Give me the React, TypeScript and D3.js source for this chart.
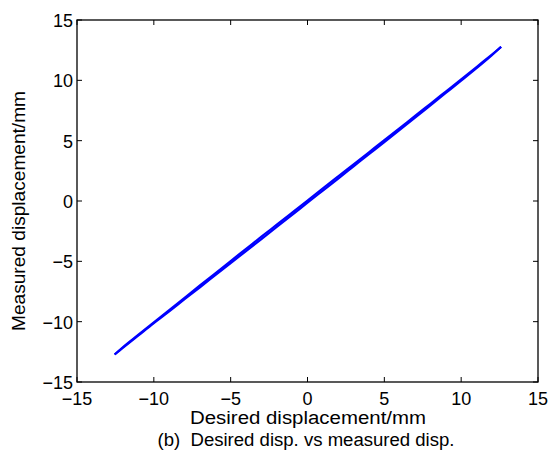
import React from "react";
import * as d3 from "d3";

const xTicks = [-15, -10, -5, 0, 5, 10, 15];
const yTicks = [-15, -10, -5, 0, 5, 10, 15];

// Rising branch of the hysteresis loop
const desiredUp = [-12.55, -12.0, -11.0, -10.0, -9.0, -8.0, -7.0, -6.0, -5.0, -4.0, -3.0, -2.0, -1.0, 0.0, 1.0, 2.0, 3.0, 4.0, 5.0, 6.0, 7.0, 8.0, 9.0, 10.0, 11.0, 12.0, 12.6];
const measuredUp = [-12.72, -12.16, -11.14, -10.12, -9.14, -8.14, -7.15, -6.15, -5.15, -4.15, -3.15, -2.15, -1.15, -0.14, 0.86, 1.86, 2.87, 3.88, 4.88, 5.9, 6.91, 7.93, 8.95, 9.97, 11.0, 12.08, 12.78];
// Falling branch
const desiredDown = [12.6, 12.0, 11.0, 10.0, 9.0, 8.0, 7.0, 6.0, 5.0, 4.0, 3.0, 2.0, 1.0, 0.0, -1.0, -2.0, -3.0, -4.0, -5.0, -6.0, -7.0, -8.0, -9.0, -10.0, -11.0, -12.0, -12.55];
const measuredDown = [12.78, 12.14, 11.1, 10.08, 9.07, 8.06, 7.05, 6.05, 5.04, 4.04, 3.04, 2.04, 1.04, 0.04, -0.96, -1.96, -2.96, -3.97, -4.98, -5.99, -7.0, -8.02, -9.04, -10.06, -11.08, -12.1, -12.72];

const W = 550;
const H = 454;
const left = 77;
const right = 538;
const top = 20;
const bottom = 382;
const font = "'Liberation Sans', Arial, Helvetica, sans-serif";

export default function App() {
  const x = d3.scaleLinear().domain([-15, 15]).range([left, right]);
  const y = d3.scaleLinear().domain([-15, 15]).range([bottom, top]);
  const line = d3
    .line<[number, number]>()
    .x((d) => x(d[0]))
    .y((d) => y(d[1]))
    .curve(d3.curveCatmullRom);
  const up: [number, number][] = desiredUp.map((d, i) => [d, measuredUp[i]]);
  const down: [number, number][] = desiredDown.map((d, i) => [d, measuredDown[i]]);
  const fmt = (v: number) => (v < 0 ? "\u2212" + Math.abs(v) : String(v));
  const tl = 5;
  return (
    <svg
      width={W}
      height={H}
      style={{ position: "absolute", left: 0, top: 0, background: "#fff" }}
      fontFamily={font}
    >
      <rect x={0} y={0} width={W} height={H} fill="#fff" />
      <path d={line(up) || ""} fill="none" stroke="#0000ff" strokeWidth={2.2} strokeLinejoin="round" />
      <path d={line(down) || ""} fill="none" stroke="#0000ff" strokeWidth={2.2} strokeLinejoin="round" />
      {/* box */}
      <rect x={left} y={top} width={right - left} height={bottom - top} fill="none" stroke="#000" strokeWidth={1.3} />
      {xTicks.map((t) => (
        <g key={"x" + t}>
          <line x1={x(t)} x2={x(t)} y1={bottom} y2={bottom - tl} stroke="#000" strokeWidth={1} />
          <line x1={x(t)} x2={x(t)} y1={top} y2={top + tl} stroke="#000" strokeWidth={1} />
          <text x={x(t)} y={405} textAnchor="middle" fontSize={18} fill="#000">
            {fmt(t)}
          </text>
        </g>
      ))}
      {yTicks.map((t) => (
        <g key={"y" + t}>
          <line x1={left} x2={left + tl} y1={y(t)} y2={y(t)} stroke="#000" strokeWidth={1} />
          <line x1={right} x2={right - tl} y1={y(t)} y2={y(t)} stroke="#000" strokeWidth={1} />
          <text x={73} y={y(t)} dy="0.39em" textAnchor="end" fontSize={18} fill="#000">
            {fmt(t)}
          </text>
        </g>
      ))}
      <text x={308} y={424} textAnchor="middle" fontSize={18} fill="#000" textLength={236} lengthAdjust="spacingAndGlyphs">
        Desired displacement/mm
      </text>
      <text
        transform={`translate(25,${211}) rotate(-90)`}
        textAnchor="middle"
        fontSize={18}
        fill="#000"
        textLength={240}
        lengthAdjust="spacingAndGlyphs"
      >
        Measured displacement/mm
      </text>
      <text x={306} y={446} textAnchor="middle" fontSize={18} fill="#000" style={{ whiteSpace: "pre" }} textLength={297} lengthAdjust="spacingAndGlyphs">
        {"(b)  Desired disp. vs measured disp."}
      </text>
    </svg>
  );
}
